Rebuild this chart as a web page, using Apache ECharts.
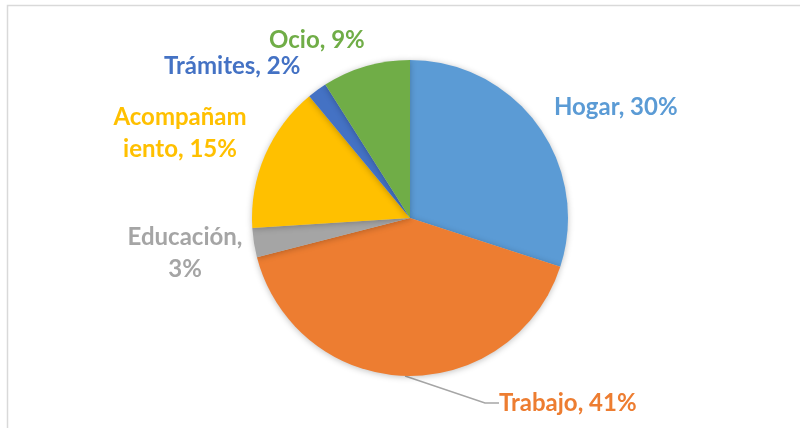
<!DOCTYPE html>
<html>
<head>
<meta charset="utf-8">
<script src="https://cdn.jsdelivr.net/npm/echarts@6/dist/echarts.min.js"></script>
<style>
  html, body { margin: 0; padding: 0; background: #fff; }
  #main { width: 800px; height: 428px; }
</style>
</head>
<body>
<div id="main"></div>
<script>
// categories and their shares (%), clockwise from 12 o'clock
const names = ["Hogar", "Trabajo", "Educación", "Acompañamiento", "Trámites", "Ocio"];
const values = [30, 41, 3, 15, 2, 9];
const colors = ["#5B9BD5", "#ED7D31", "#A5A5A5", "#FFC000", "#4472C4", "#70AD47"];
const labelTexts = ["Hogar, 30%", "Trabajo, 41%", "Educación,\n3%", "Acompañam\niento, 15%", "Trámites, 2%", "Ocio, 9%"];

// where each label sits (x, y of anchor), and its alignment
const labelSpots = [
  { x: 554, y: 107, align: "left" },
  { x: 499, y: 403, align: "left" },
  { x: 185, y: 253, align: "center" },
  { x: 180, y: 133, align: "center" },
  { x: 164, y: 66, align: "left" },
  { x: 269, y: 40, align: "left" }
];

let myChart = echarts.init(document.getElementById("main"));
myChart.setOption({
  animation: false,
  graphic: [
    {
      type: "rect",
      shape: { x: 7.5, y: 5.5, width: 820, height: 440 },
      style: { fill: "none", stroke: "#D9D9D9", lineWidth: 1.5 },
      silent: true
    }
  ],
  series: [
    {
      type: "pie",
      center: [410, 218],
      radius: 158,
      startAngle: 90,
      clockwise: true,
      avoidLabelOverlap: false,
      itemStyle: {
        shadowBlur: 6,
        shadowColor: "rgba(0,0,0,0.25)",
        shadowOffsetY: 1
      },
      label: {
        show: true,
        position: "outside",
        fontFamily: "Lato",
        fontWeight: "bold",
        fontSize: 24,
        lineHeight: 32
      },
      labelLine: { show: false },
      labelLayout: function (p) {
        const s = labelSpots[p.dataIndex];
        return { x: s.x, y: s.y, align: s.align, verticalAlign: "middle" };
      },
      data: names.map(function (n, i) {
        const item = {
          name: n,
          value: values[i],
          itemStyle: { color: colors[i] },
          label: { color: colors[i], formatter: labelTexts[i] }
        };
        if (n === "Trabajo") {
          item.labelLine = {
            show: true,
            length: 30,
            length2: 14,
            lineStyle: { color: "#A6A6A6", width: 1.5 }
          };
        }
        return item;
      })
    }
  ]
});
</script>
</body>
</html>
